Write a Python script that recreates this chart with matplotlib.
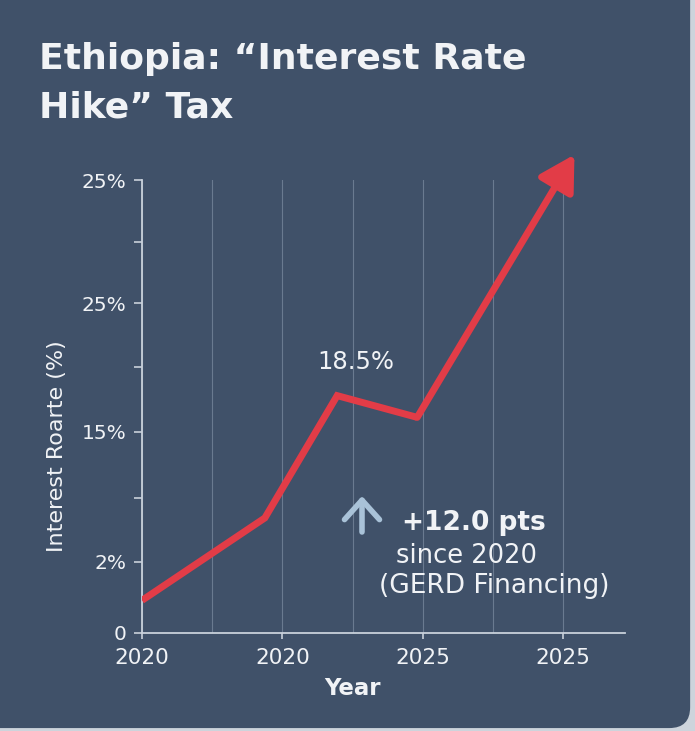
import matplotlib
matplotlib.use("Agg")
import matplotlib.pyplot as plt
from matplotlib.patches import FancyBboxPatch

plt.rcParams['font.family'] = ['DejaVu Sans']

# --- data (y in the chart's own axis units) ---
x_pos = [0.0, 0.875, 1.39, 1.96]      # line vertices along the year axis
rate = [1.8, 6.35, 13.1, 11.9]
tip_x, tip_y = 3.08, 26.4             # arrow head, above the top of the axis

xtick_pos = [0, 1, 2, 3]
xtick_labels = ['2020', '2020', '2025', '2025']
ytick_pos = [0, 3.92, 11.1, 18.2, 25]
ytick_labels = ['0', '2%', '15%', '25%', '25%']
ytick_minor = [7.45, 14.7, 21.6]

peak_label = '18.5%'

bg = '#405169'
red = '#e23c47'
txt = '#f1f3f6'
axcol = '#c9d1db'

fig = plt.figure(figsize=(6.95, 7.31), dpi=100)
fig.patch.set_facecolor('#cdd4dc')
# rounded card behind everything
card = FancyBboxPatch((-0.05, 0.004), 1.043, 1.05,
                      boxstyle='round,pad=0,rounding_size=0.03',
                      mutation_aspect=695 / 731,
                      transform=fig.transFigure, facecolor=bg,
                      edgecolor='none', zorder=-10)
fig.patches.append(card)

ax = fig.add_axes([142 / 695, 1 - 633 / 731, (625 - 142) / 695, (633 - 180) / 731])
ax.set_facecolor('none')
ax.set_xlim(0, 3.44)
ax.set_ylim(0, 25)

for s in ['top', 'right']:
    ax.spines[s].set_visible(False)
for s in ['left', 'bottom']:
    ax.spines[s].set_color(axcol)
    ax.spines[s].set_linewidth(1.3)

ax.set_xticks(xtick_pos)
ax.set_xticklabels(xtick_labels)
ax.set_xticks([0.5, 1.5, 2.5], minor=True)
ax.set_yticks(ytick_pos)
ax.set_yticklabels(ytick_labels)
ax.set_yticks(ytick_minor, minor=True)

ax.tick_params(axis='x', which='major', length=4, width=1.2, color=axcol,
               labelcolor=txt, labelsize=15.5, pad=7)
ax.tick_params(axis='x', which='minor', length=0)
ax.tick_params(axis='y', which='both', length=6, width=1.2, color=axcol,
               labelcolor=txt, labelsize=14.5, pad=5)

ax.grid(True, axis='x', which='both', color='#8797ab', linewidth=0.8, alpha=0.6)
ax.set_axisbelow(True)

# the red line and its arrow
ax.plot(x_pos, rate, color=red, linewidth=5, solid_joinstyle='miter',
        solid_capstyle='butt', zorder=3)
ax.annotate('', xy=(tip_x, tip_y), xytext=(x_pos[-1], rate[-1]),
            annotation_clip=False, zorder=3,
            arrowprops=dict(arrowstyle='-|>,head_length=0.7,head_width=0.4',
                            color=red, lw=5, shrinkA=0, shrinkB=0,
                            mutation_scale=30))

ax.text(1.52, 14.3, peak_label, color=txt, fontsize=17.5, ha='center',
        va='bottom')

# annotation block
ax.annotate('', xy=(362 / 695, 1 - 496 / 731), xytext=(362 / 695, 1 - 532 / 731),
            xycoords='figure fraction', textcoords='figure fraction',
            arrowprops=dict(arrowstyle='->,head_length=0.5,head_width=0.45',
                            color='#a9c2d8', lw=4, mutation_scale=28,
                            shrinkA=0, shrinkB=0))
fig.text(474 / 695, 1 - 530 / 731, '+12.0 pts', color=txt, fontsize=19,
         fontweight='bold', ha='center', va='baseline')
fig.text(467 / 695, 1 - 563 / 731, 'since 2020', color=txt, fontsize=18.5,
         ha='center', va='baseline')
fig.text(494 / 695, 1 - 593 / 731, '(GERD Financing)', color=txt, fontsize=19,
         ha='center', va='baseline')

# titles and axis labels
fig.text(39 / 695, 1 - 69 / 731, 'Ethiopia: \u201cInterest Rate', color=txt,
         fontsize=26, fontweight='bold', ha='left', va='baseline')
fig.text(39 / 695, 1 - 117 / 731, 'Hike\u201d Tax', color=txt,
         fontsize=26, fontweight='bold', ha='left', va='baseline')
fig.text(352 / 695, 1 - 695 / 731, 'Year', color=txt, fontsize=16.5,
         fontweight='bold', ha='center', va='baseline')
fig.text(57 / 695, 1 - 446 / 731, 'Interest Roarte (%)', color=txt,
         fontsize=16, rotation=90, ha='center', va='center')

fig.savefig('out.png', dpi=100, facecolor=fig.get_facecolor())
